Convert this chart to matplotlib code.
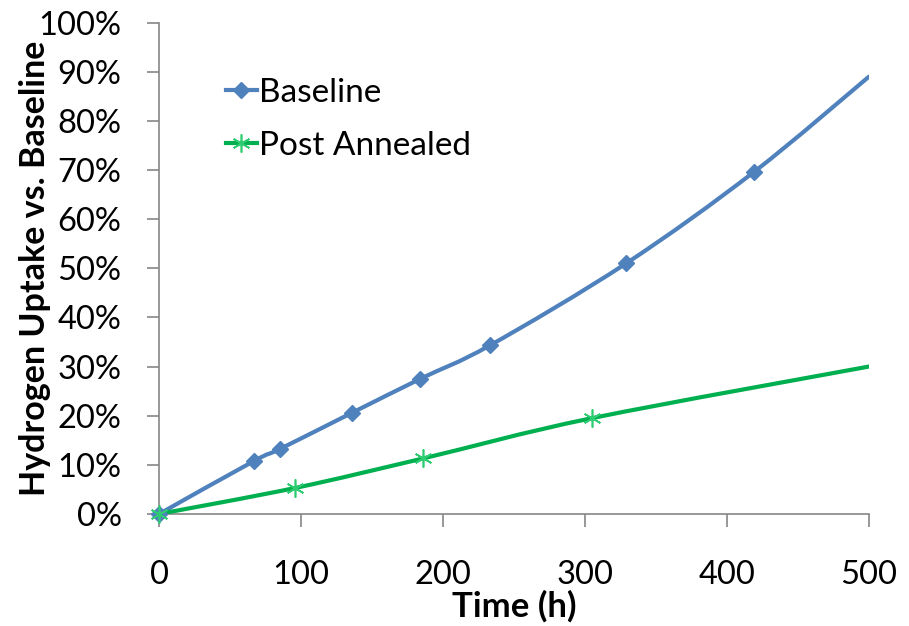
import matplotlib
matplotlib.use("Agg")
import matplotlib.pyplot as plt
from matplotlib.path import Path
from matplotlib.patches import PathPatch
from matplotlib.lines import Line2D
from matplotlib.ticker import FuncFormatter

# values
baseline_t = [0, 67, 85, 136, 184, 233, 329, 419, 500]
baseline_h = [0, 10.8, 13.2, 20.6, 27.5, 34.3, 51.0, 69.6, 89.0]
annealed_t = [0, 96, 186, 305, 500]
annealed_h = [0, 5.3, 11.3, 19.5, 30.0]

x_ticks = [0, 100, 200, 300, 400, 500]
y_ticks = [0, 10, 20, 30, 40, 50, 60, 70, 80, 90, 100]

blue = '#4F81BD'
green = '#00B050'

plt.rcParams['font.family'] = ['Lato', 'DejaVu Sans']


def smooth_path(xs, ys):
    # Excel-style smoothed line: Catmull-Rom segments as cubic Beziers
    pts = list(zip(xs, ys))
    n = len(pts)
    verts = [pts[0]]
    codes = [Path.MOVETO]
    for i in range(n - 1):
        p0 = pts[i - 1] if i > 0 else pts[i]
        p1 = pts[i]
        p2 = pts[i + 1]
        p3 = pts[i + 2] if i + 2 < n else pts[i + 1]
        c1 = (p1[0] + (p2[0] - p0[0]) / 6, p1[1] + (p2[1] - p0[1]) / 6)
        c2 = (p2[0] - (p3[0] - p1[0]) / 6, p2[1] - (p3[1] - p1[1]) / 6)
        verts += [c1, c2, p2]
        codes += [Path.CURVE4] * 3
    return Path(verts, codes)


fig = plt.figure(figsize=(9.09, 6.26), dpi=100)
ax = fig.add_axes([0.175, 0.179, 0.781, 0.785])

ax.add_patch(PathPatch(smooth_path(baseline_t, baseline_h), fill=False,
                       edgecolor=blue, lw=3, capstyle='round', zorder=3))
ax.add_patch(PathPatch(smooth_path(annealed_t, annealed_h), fill=False,
                       edgecolor=green, lw=3, capstyle='round', zorder=3))

# markers (last point is only where the line leaves the plot)
ax.plot(baseline_t[:-1], baseline_h[:-1], ls='none', marker='D', ms=8.5,
        color=blue, zorder=4, clip_on=False)
ax.plot(annealed_t[:-1], annealed_h[:-1], ls='none', marker=(6, 2, 0), ms=13,
        mew=1.2, color='#2ECC71', zorder=4, clip_on=False)

ax.set_xlim(0, 500)
ax.set_ylim(0, 100)
ax.set_xticks(x_ticks)
ax.set_yticks(y_ticks)
ax.yaxis.set_major_formatter(FuncFormatter(lambda v, p: f'{v:.0f}%'))

for s in ['top', 'right']:
    ax.spines[s].set_visible(False)
for s in ['left', 'bottom']:
    ax.spines[s].set_color('#868686')
    ax.spines[s].set_linewidth(1.2)

ax.tick_params(axis='both', direction='out', length=9, width=1.2,
               color='#868686', labelsize=23.5)
ax.tick_params(axis='x', pad=24)
ax.tick_params(axis='y', pad=18)

ax.set_xlabel('Time (h)', fontsize=25, fontweight='bold', labelpad=0)
ax.set_ylabel('Hydrogen Uptake vs. Baseline', fontsize=24.5, fontweight='bold')
ax.yaxis.set_label_coords(-0.152, 0.5)

handles = [
    Line2D([], [], color=blue, lw=3, marker='D', ms=8.5),
    Line2D([], [], color=green, lw=3, marker=(6, 2, 0), ms=13, mew=1.2,
           markeredgecolor='#2ECC71'),
]
ax.legend(handles, ['Baseline', 'Post Annealed'], loc='upper left',
          bbox_to_anchor=(0.075, 0.915), frameon=False, fontsize=24,
          handlelength=0.95, handletextpad=0.05, labelspacing=0.7,
          borderaxespad=0)

fig.savefig('out.png', dpi=100)
